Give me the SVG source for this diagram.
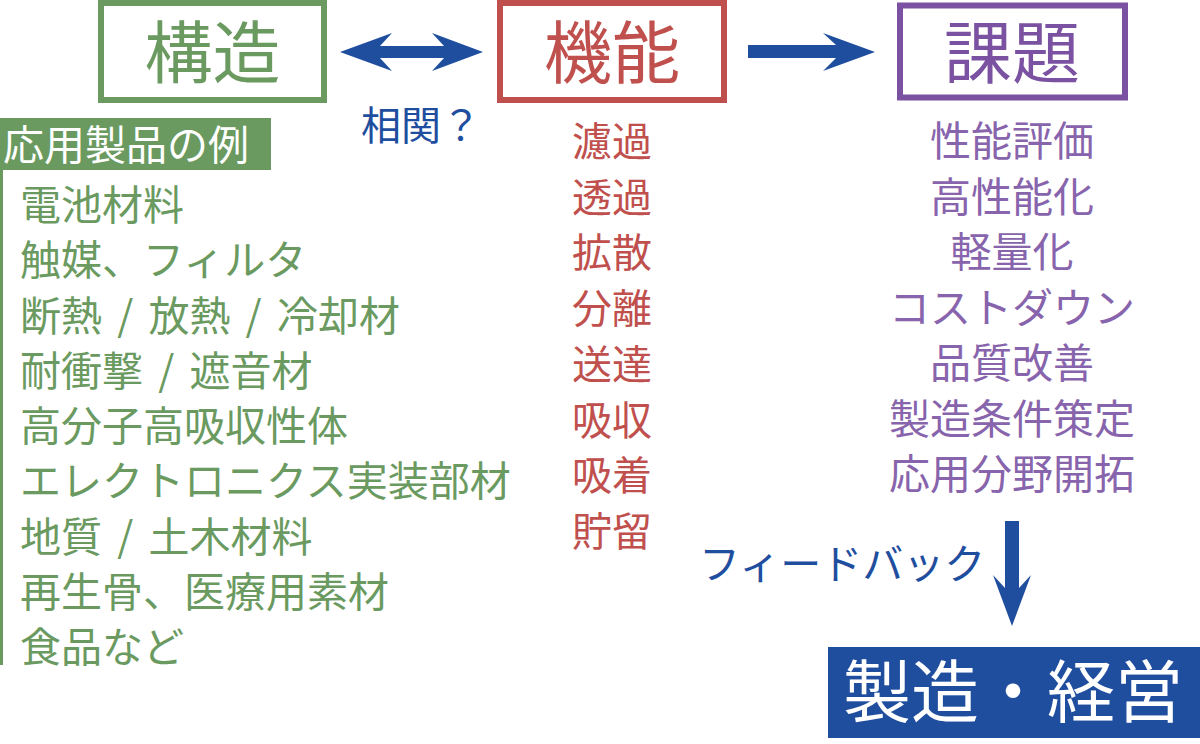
<svg xmlns="http://www.w3.org/2000/svg" width="1200" height="744" viewBox="0 0 1200 744">
<style>
text{font-family:"Noto Sans CJK JP","Noto Sans CJK SC",sans-serif;font-weight:400}
.big{font-size:68px;text-anchor:middle}
.box{fill:none;stroke-width:6}
.g{fill:#6a9a5f}
.r{fill:#c0504d}
.p{fill:#8764ac}
.b{fill:#1f4e9f}
.w{fill:#ffffff}
.li{font-size:41px}
.mid{font-size:40px;text-anchor:middle}
.sl{word-spacing:6px}
</style>
<rect width="1200" height="744" fill="#ffffff"/>
<g id="node-kozo">
<rect class="box" x="101" y="3" width="223" height="97" stroke="#6a9a5f"/>
<text class="big g" x="212.5" y="78">構造</text>
</g>
<g id="node-kino">
<rect class="box" x="500" y="3" width="224" height="97" stroke="#c0504d"/>
<text class="big r" x="612" y="78">機能</text>
</g>
<g id="node-kadai">
<rect class="box" x="900" y="5.5" width="225" height="92" stroke="#7a52a1"/>
<text class="big" fill="#7a52a1" x="1012" y="78">課題</text>
</g>
<g id="node-oyo">
<rect x="0" y="118" width="271" height="52" fill="#6a9a5f"/>
<line x1="1.5" y1="168" x2="1.5" y2="665" stroke="#6a9a5f" stroke-width="3"/>
<text class="li w" x="3" y="160">応用製品の例</text>
<text class="li g" x="20" y="220">電池材料</text>
<text class="li g" x="20" y="275">触媒、フィルタ</text>
<text class="li g sl" x="20" y="330.5">断熱 / 放熱 / 冷却材</text>
<text class="li g sl" x="20" y="386">耐衝撃 / 遮音材</text>
<text class="li g" x="20" y="441">高分子高吸収性体</text>
<text class="li g" x="20" y="496">エレクトロニクス実装部材</text>
<text class="li g sl" x="20" y="551.5">地質 / 土木材料</text>
<text class="li g" x="20" y="607">再生骨、医療用素材</text>
<text class="li g" x="20" y="662">食品など</text>
</g>
<g id="list-kino">
<text class="mid r" x="612" y="156">濾過</text>
<text class="mid r" x="612" y="212">透過</text>
<text class="mid r" x="612" y="267">拡散</text>
<text class="mid r" x="612" y="323">分離</text>
<text class="mid r" x="612" y="379">送達</text>
<text class="mid r" x="612" y="435">吸収</text>
<text class="mid r" x="612" y="490">吸着</text>
<text class="mid r" x="612" y="546">貯留</text>
</g>
<g id="list-kadai">
<text class="mid p" style="font-size:41px" x="1012" y="156">性能評価</text>
<text class="mid p" style="font-size:41px" x="1012" y="211.5">高性能化</text>
<text class="mid p" style="font-size:41px" x="1012" y="267">軽量化</text>
<text class="mid p" style="font-size:41px" x="1012" y="322.5">コストダウン</text>
<text class="mid p" style="font-size:41px" x="1012" y="378">品質改善</text>
<text class="mid p" style="font-size:41px" x="1012" y="433.5">製造条件策定</text>
<text class="mid p" style="font-size:41px" x="1012" y="489">応用分野開拓</text>
</g>
<g id="node-keiei">
<rect x="828" y="647" width="372" height="91" fill="#1f4e9f"/>
<text class="w" style="font-size:68px;text-anchor:middle" x="1013" y="717">製造・経営</text>
</g>
<g id="connectors">
<path class="b" d="M340,52 L392,33 L380,46 L444,46 L432,33 L483,52 L432,71 L444,58 L380,58 L392,71 Z"/>
<text class="b" style="font-size:40px" x="361" y="140">相関？</text>
<path class="b" d="M748,45 L836,45 L823,33 L875,52 L823,71 L836,58 L748,58 Z"/>
<path class="b" d="M1005,521 L1019,521 L1019,588 L1031,575 L1012,626 L993,575 L1005,588 Z"/>
<text class="b" style="font-size:41px" x="699" y="579">フィードバック</text>
</g>
</svg>
